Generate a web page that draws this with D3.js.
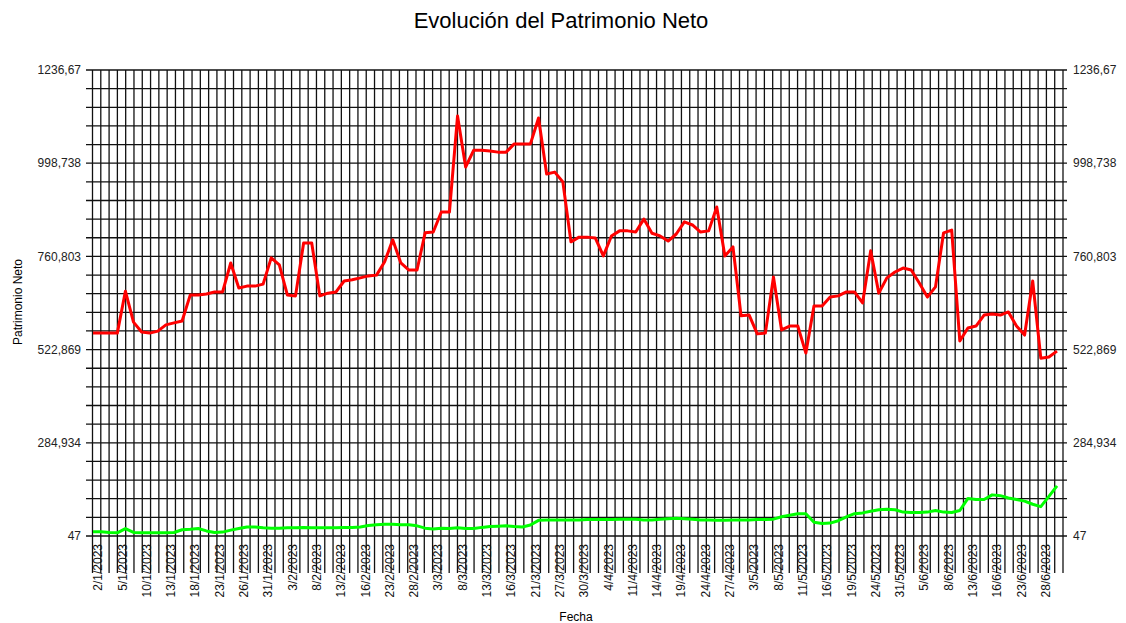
<!DOCTYPE html>
<html>
<head>
<meta charset="utf-8">
<script src="https://cdnjs.cloudflare.com/ajax/libs/d3/7.8.5/d3.min.js"></script>
<style>
  body { margin: 0; background: #fff; }
  text { font-family: Arial, "Liberation Sans", sans-serif; }
</style>
</head>
<body>
<div id="myDiv"></div>
<script>
// fechas (dias de mercado)
var fechas = [
  "2/1/2023","3/1/2023","4/1/2023","5/1/2023","6/1/2023","9/1/2023","10/1/2023","11/1/2023","12/1/2023","13/1/2023",
  "16/1/2023","17/1/2023","18/1/2023","19/1/2023","20/1/2023","23/1/2023","24/1/2023","25/1/2023","26/1/2023","27/1/2023",
  "30/1/2023","31/1/2023","1/2/2023","2/2/2023","3/2/2023","6/2/2023","7/2/2023","8/2/2023","9/2/2023","10/2/2023",
  "13/2/2023","14/2/2023","15/2/2023","16/2/2023","17/2/2023","22/2/2023","23/2/2023","24/2/2023","27/2/2023","28/2/2023",
  "1/3/2023","2/3/2023","3/3/2023","6/3/2023","7/3/2023","8/3/2023","9/3/2023","10/3/2023","13/3/2023","14/3/2023",
  "15/3/2023","16/3/2023","17/3/2023","20/3/2023","21/3/2023","22/3/2023","23/3/2023","27/3/2023","28/3/2023","29/3/2023",
  "30/3/2023","31/3/2023","3/4/2023","4/4/2023","5/4/2023","10/4/2023","11/4/2023","12/4/2023","13/4/2023","14/4/2023",
  "17/4/2023","18/4/2023","19/4/2023","20/4/2023","21/4/2023","24/4/2023","25/4/2023","26/4/2023","27/4/2023","28/4/2023",
  "2/5/2023","3/5/2023","4/5/2023","5/5/2023","8/5/2023","9/5/2023","10/5/2023","11/5/2023","12/5/2023","15/5/2023",
  "16/5/2023","17/5/2023","18/5/2023","19/5/2023","22/5/2023","23/5/2023","24/5/2023","25/5/2023","26/5/2023","31/5/2023",
  "1/6/2023","2/6/2023","5/6/2023","6/6/2023","7/6/2023","8/6/2023","9/6/2023","12/6/2023","13/6/2023","14/6/2023",
  "15/6/2023","16/6/2023","19/6/2023","20/6/2023","23/6/2023","26/6/2023","27/6/2023","28/6/2023","29/6/2023","30/6/2023"
];

// serie roja
var patrimonio = [
  565,565,565,565,672,593,568,565,570,586,
  591,596,662,662,665,670,670,744,680,685,
  685,690,757,739,662,660,795,795,660,667,
  670,698,701,706,711,713,747,803,744,726,
  726,821,823,874,874,1119,989,1032,1032,1030,
  1027,1027,1048,1048,1048,1114,971,976,951,798,
  810,810,808,762,813,826,826,823,856,820,
  813,800,818,849,841,823,826,887,762,785,
  609,611,563,565,708,573,583,583,514,634,
  634,657,660,670,670,642,775,667,706,721,
  731,726,693,657,683,821,828,545,578,583,
  611,614,611,619,583,560,698,501,504,519
];

// serie verde
var liquidez = [
  58,58,56,55,66,56,55,55,55,55,
  56,63,64,66,60,56,57,62,66,70,
  70,68,67,67,68,68,69,68,68,68,
  68,69,69,70,74,76,77,77,76,76,
  73,67,65,67,66,68,66,66,69,71,
  72,73,71,70,75,87,88,88,88,88,
  88,89,89,89,89,90,90,90,88,88,
  90,91,92,91,90,88,88,87,87,88,
  88,88,89,89,90,96,100,104,104,82,
  79,80,86,96,104,106,110,114,115,114,
  108,107,107,108,112,108,107,112,143,140,
  140,152,150,144,140,136,128,122,148,175
];

var yTicks = [47, 284.934, 522.869, 760.803, 998.738, 1236.67];
var yMin = 47, yMax = 1236.67;

var w = 1126;
var h = 623;
var plotLeft = 92.5, plotRight = 1063, plotTop = 70, plotBottom = 536;

var svg = d3.select("#myDiv")
    .append("svg")
    .attr("width", w)
    .attr("height", h);

var x = d3.scalePoint()
    .domain(fechas)
    .range([93, 1057]);

var y = d3.scaleLinear()
    .domain([yMin, yMax])
    .range([plotBottom, plotTop]);

// rejilla vertical
var nGrid = 117;
var gx = d3.scaleLinear().domain([0, nGrid]).range([plotLeft, plotRight]);
svg.append("g")
   .selectAll("line")
   .data(d3.range(nGrid + 1))
   .enter()
   .append("line")
   .attr("x1", function(d) { return gx(d); })
   .attr("x2", function(d) { return gx(d); })
   .attr("y1", plotTop)
   .attr("y2", 573)
   .attr("stroke", "#111")
   .attr("stroke-width", 1.3);

// rejilla horizontal (5 divisiones por intervalo)
var step = (yMax - yMin) / 25;
svg.append("g")
   .selectAll("line")
   .data(d3.range(26))
   .enter()
   .append("line")
   .attr("x1", 86)
   .attr("x2", 1067)
   .attr("y1", function(d) { return y(yMin + d * step); })
   .attr("y2", function(d) { return y(yMin + d * step); })
   .attr("stroke", "#111")
   .attr("stroke-width", 1.3);

var fmt = function(d) {
  return d3.format(".6~r")(d).replace(".", ",");
};

// etiquetas eje izquierdo
svg.selectAll("text.yl")
   .data(yTicks)
   .enter()
   .append("text")
   .attr("class", "yl")
   .attr("x", 81)
   .attr("y", function(d) { return y(d); })
   .attr("dy", "0.35em")
   .attr("text-anchor", "end")
   .attr("font-size", "12px")
   .attr("fill", "#222")
   .text(fmt);

// etiquetas eje derecho
svg.selectAll("text.yr")
   .data(yTicks)
   .enter()
   .append("text")
   .attr("class", "yr")
   .attr("x", 1073)
   .attr("y", function(d) { return y(d); })
   .attr("dy", "0.35em")
   .attr("text-anchor", "start")
   .attr("font-size", "12px")
   .attr("fill", "#222")
   .text(fmt);

// etiquetas de fecha, una de cada tres
svg.selectAll("text.xl")
   .data(fechas.filter(function(d, i) { return i % 3 == 0; }))
   .enter()
   .append("text")
   .attr("class", "xl")
   .attr("transform", function(d) {
      return "translate(" + (x(d) + 5) + ",544) rotate(-90)";
   })
   .attr("dy", "0.35em")
   .attr("text-anchor", "end")
   .attr("font-size", "12px")
   .attr("fill", "#111")
   .text(function(d) { return d; });

// lineas
var line = d3.line()
    .x(function(d, i) { return x(fechas[i]); })
    .y(function(d) { return y(d); });

svg.append("path")
   .datum(liquidez)
   .attr("d", line)
   .attr("fill", "none")
   .attr("stroke", "#00ff00")
   .attr("stroke-width", 3)
   .attr("stroke-linejoin", "round");

svg.append("path")
   .datum(patrimonio)
   .attr("d", line)
   .attr("fill", "none")
   .attr("stroke", "#ff0000")
   .attr("stroke-width", 3)
   .attr("stroke-linejoin", "round");

// titulos
svg.append("text")
   .attr("x", 561)
   .attr("y", 28)
   .attr("text-anchor", "middle")
   .attr("font-size", "22px")
   .attr("fill", "#000")
   .text("Evolución del Patrimonio Neto");

svg.append("text")
   .attr("transform", "translate(22,302) rotate(-90)")
   .attr("text-anchor", "middle")
   .attr("font-size", "12px")
   .attr("fill", "#000")
   .text("Patrimonio Neto");

svg.append("text")
   .attr("x", 576)
   .attr("y", 621)
   .attr("text-anchor", "middle")
   .attr("font-size", "12px")
   .attr("fill", "#000")
   .text("Fecha");
</script>
</body>
</html>
